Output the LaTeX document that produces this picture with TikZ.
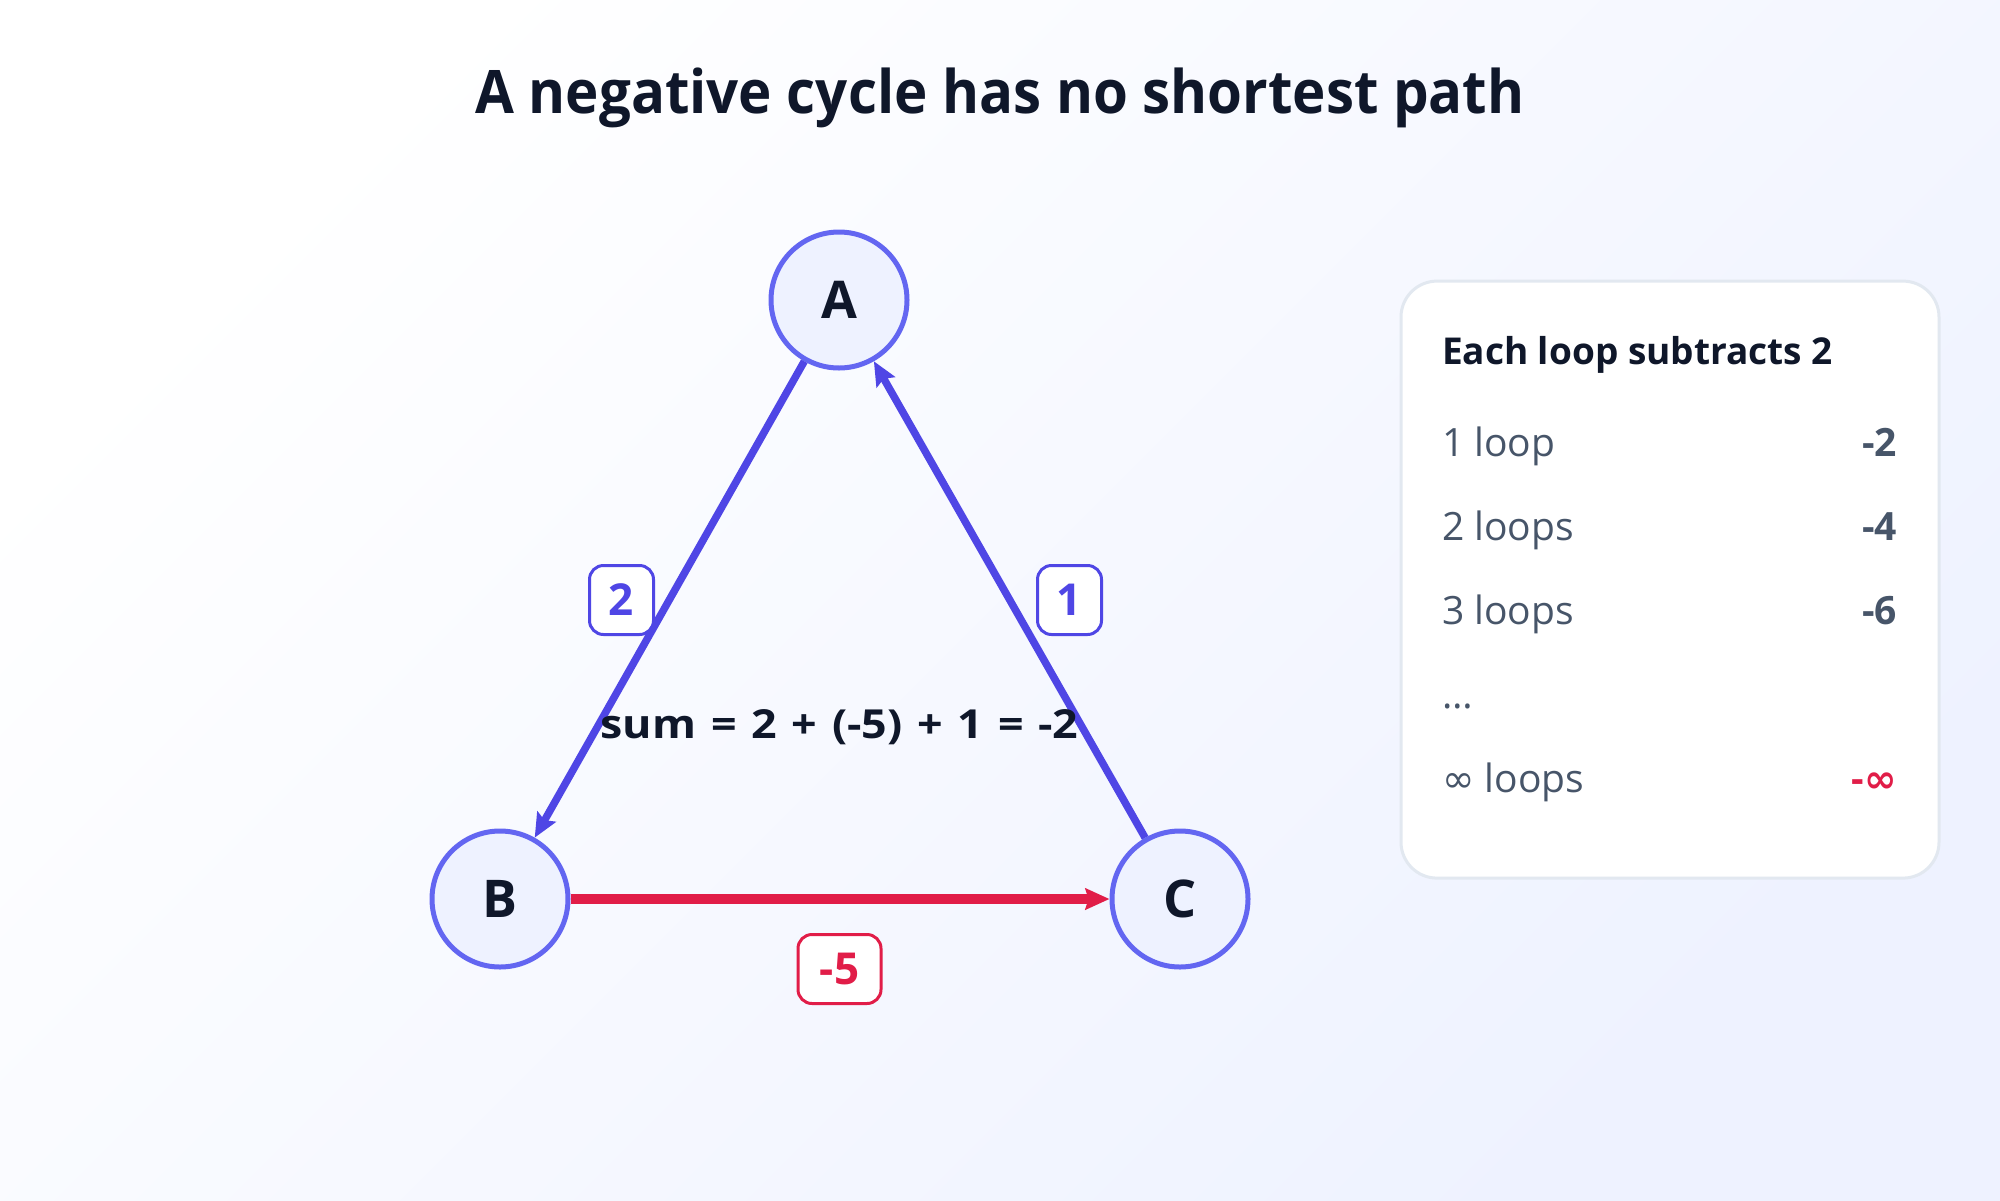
\documentclass[tikz,border=0pt]{standalone}
\usepackage{fontspec}
\IfFontExistsTF{NotoSans-Bold.ttf}
  {\setmainfont{NotoSans}[Extension=.ttf,UprightFont=*-Regular,BoldFont=*-Bold]}
  {\IfFontExistsTF{Noto Sans Bold}
    {\setmainfont{Noto Sans}[BoldFont={Noto Sans Bold}]}
    {\setmainfont{Open Sans}}}
\newfontfamily\symfont{DejaVu Sans}
\usetikzlibrary{arrows.meta}
\definecolor{ink}{HTML}{0F172A}
\definecolor{nodefill}{HTML}{EEF2FF}
\definecolor{nodeline}{HTML}{6366F1}
\definecolor{edgeblue}{HTML}{4F46E5}
\definecolor{edgered}{HTML}{E11D48}
\definecolor{slate}{HTML}{475569}
\definecolor{panelline}{HTML}{E2E8F0}
\definecolor{bgend}{HTML}{EEF2FF}
\begin{document}
\begin{tikzpicture}[x=1pt,y=-1pt,
  vert/.style={circle, draw=nodeline, fill=nodefill, line width=5pt, minimum size=136pt, inner sep=0pt, text=ink, font=\fontsize{52}{60}\selectfont\bfseries},
  edgeb/.style={draw=edgeblue, line width=7.5pt, -{Stealth[length=24pt,width=21pt,inset=4pt]}},
  edger/.style={draw=edgered, line width=10pt, -{Stealth[length=24pt,width=21pt,inset=3pt]}},
  wlabel/.style={draw=#1, text=#1, fill=white, line width=3pt, rounded corners=14pt, minimum height=69pt, inner sep=0pt, font=\fontsize{44}{50}\selectfont\bfseries},
  txt/.style={inner sep=0pt, outer sep=0pt},
  rowtext/.style={txt, anchor=base west, text=slate, font=\fontsize{39}{45}\selectfont},
  rowval/.style={txt, anchor=base east, text=slate, font=\fontsize{39}{45}\selectfont\bfseries}
]
\useasboundingbox (0,0) rectangle (2000,1200);
\shade[shading=axis, top color=white, bottom color=bgend, shading angle=45] (0,0) rectangle (2000,1200);

% title
\node[txt, anchor=base, text=ink, font=\fontsize{60}{70}\selectfont\bfseries\addfontfeatures{FakeStretch=0.94}] (title) at (1000,113) {A negative cycle has no shortest path};

% graph
\node[vert] (A) at (839,300) {A};
\node[vert] (B) at (500,899) {B};
\node[vert] (C) at (1180,899) {C};

\draw[edgeb] (A) -- (B);
\draw[edger] (B) -- (C);
\draw[edgeb] (C) -- (A);

\node[wlabel=edgeblue, minimum width=64pt] (l2) at (621.5,600) {2};
\node[wlabel=edgeblue, minimum width=64pt] (l1) at (1069.5,600) {1};
\node[wlabel=edgered, minimum width=83pt] (l5) at (839.5,969) {-5};

\node[txt, anchor=base, text=ink, font=\fontsize{40}{45}\selectfont\bfseries\addfontfeatures{FakeStretch=1.12}] (sum) at (839.5,738) {\spaceskip=14.8pt sum = 2 + (-5) + 1 = -2};

% panel
\node[draw=panelline, fill=white, line width=3pt, rounded corners=36pt, minimum width=538pt, minimum height=597pt, inner sep=0pt] (panel) at (1670,579.6) {};
\node[txt, anchor=base west, text=ink, font=\fontsize{37}{44}\selectfont\bfseries] (ptitle) at (1442,364) {Each loop subtracts 2};

\node[rowtext] (r1) at (1442,456) {1 loop};
\node[rowval] (v1) at (1897,456) {-2};
\node[rowtext] (r2) at (1442,540) {2 loops};
\node[rowval] (v2) at (1897,540) {-4};
\node[rowtext] (r3) at (1442,624) {3 loops};
\node[rowval] (v3) at (1897,624) {-6};
\node[rowtext] (r4) at (1442,708) {…};
\node[rowtext] (r5) at (1442,792) {{\symfont ∞} loops};
\node[rowval, text=edgered] (v5) at (1897,792) {-{\symfont\bfseries ∞}};
\end{tikzpicture}
\end{document}
